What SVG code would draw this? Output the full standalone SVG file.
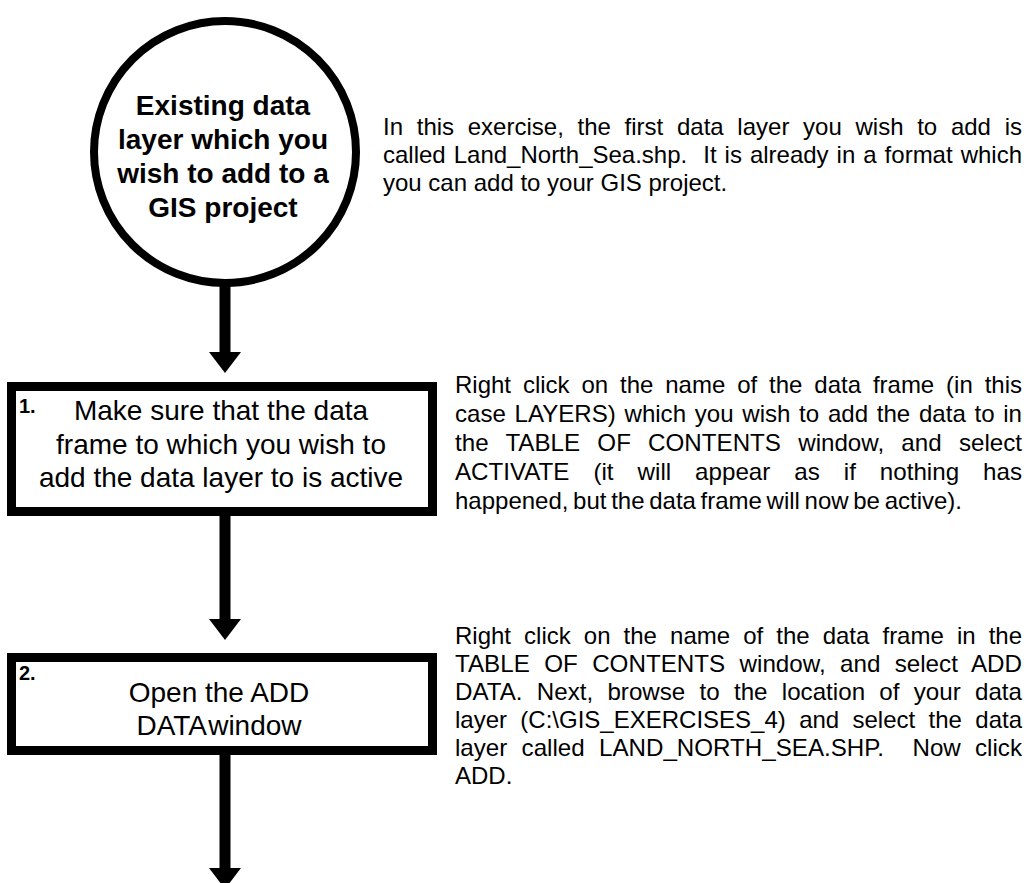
<svg xmlns="http://www.w3.org/2000/svg" width="1031" height="883" viewBox="0 0 1031 883">
  <style>
    .shape { fill: #ffffff; stroke: #000000; }
    .title { font-family: "Liberation Sans", Arial, sans-serif; font-size: 28px; font-weight: bold; fill: #000; text-anchor: middle; }
    .step { font-family: "Liberation Sans", Arial, sans-serif; font-size: 28px; fill: #000; text-anchor: middle; }
    .num { font-family: "Liberation Sans", Arial, sans-serif; font-size: 20px; font-weight: bold; fill: #000; }
    .note { font-family: "Liberation Sans", Arial, sans-serif; font-size: 24px; fill: #000; }
    .flow { stroke: #000; stroke-width: 11; fill: none; marker-end: url(#head); }
  </style>
  <defs>
    <marker id="head" markerUnits="userSpaceOnUse" viewBox="0 -16 21 32" refX="0" refY="0" markerWidth="21" markerHeight="32" orient="auto">
      <path d="M0,-16 L21,0 L0,16 Z" fill="#000"/>
    </marker>
  </defs>
  <rect width="1031" height="883" fill="#ffffff"/>

  <!-- connectors -->
  <g id="connectors">
    <line class="flow" x1="225" y1="286" x2="225" y2="352"/>
    <line class="flow" x1="225" y1="515" x2="225" y2="619"/>
    <line class="flow" x1="225" y1="754" x2="225" y2="868"/>
  </g>

  <!-- start: existing data layer -->
  <g id="start">
    <circle class="shape" cx="225" cy="152" r="131" stroke-width="8"/>
    <text class="title" x="223" y="115">Existing data</text>
    <text class="title" x="223" y="149">layer which you</text>
    <text class="title" x="223" y="183">wish to add to a</text>
    <text class="title" x="223" y="217">GIS project</text>
  </g>

  <!-- step 1 -->
  <g id="step1">
    <rect class="shape" x="11.5" y="386.5" width="421" height="125" stroke-width="9"/>
    <text class="num" x="19" y="413">1.</text>
    <text class="step" x="221" y="420">Make sure that the data</text>
    <text class="step" x="221" y="454">frame to which you wish to</text>
    <text class="step" x="221" y="487">add the data layer to is active</text>
  </g>

  <!-- step 2 -->
  <g id="step2">
    <rect class="shape" x="11.5" y="657.5" width="421" height="93" stroke-width="9"/>
    <text class="num" x="19" y="680">2.</text>
    <text class="step" x="219" y="702">Open the ADD</text>
    <text class="step" x="219" y="735" word-spacing="-5">DATA window</text>
  </g>

  <!-- note beside the start node -->
  <g id="note0">
    <text class="note" x="383" y="135" word-spacing="7.04" textLength="639" lengthAdjust="spacingAndGlyphs">In this exercise, the first data layer you wish to add is</text>
    <text class="note" x="383" y="163" word-spacing="1.33" textLength="639" lengthAdjust="spacingAndGlyphs" xml:space="preserve">called Land_North_Sea.shp.  It is already in a format which</text>
    <text class="note" x="383" y="191">you can add to your GIS project.</text>
  </g>

  <!-- note beside step 1 -->
  <g id="note1">
    <text class="note" x="455" y="393" word-spacing="5.21" textLength="567" lengthAdjust="spacingAndGlyphs">Right click on the name of the data frame (in this</text>
    <text class="note" x="455" y="422" word-spacing="2.0" textLength="567" lengthAdjust="spacingAndGlyphs">case LAYERS) which you wish to add the data to in</text>
    <text class="note" x="455" y="451" word-spacing="10.47" textLength="567" lengthAdjust="spacingAndGlyphs">the TABLE OF CONTENTS window, and select</text>
    <text class="note" x="455" y="480" word-spacing="17.2" textLength="567" lengthAdjust="spacingAndGlyphs">ACTIVATE (it will appear as if nothing has</text>
    <text class="note" x="455" y="509" word-spacing="-2">happened, but the data frame will now be active).</text>
  </g>

  <!-- note beside step 2 -->
  <g id="note2">
    <text class="note" x="455" y="644" word-spacing="6.41" textLength="567" lengthAdjust="spacingAndGlyphs">Right click on the name of the data frame in the</text>
    <text class="note" x="455" y="672" word-spacing="7.58" textLength="567" lengthAdjust="spacingAndGlyphs">TABLE OF CONTENTS window, and select ADD</text>
    <text class="note" x="455" y="700" word-spacing="7.51" textLength="567" lengthAdjust="spacingAndGlyphs">DATA. Next, browse to the location of your data</text>
    <text class="note" x="455" y="728" word-spacing="6.68" textLength="567" lengthAdjust="spacingAndGlyphs">layer (C:\GIS_EXERCISES_4) and select the data</text>
    <text class="note" x="455" y="756" word-spacing="7.5" textLength="567" lengthAdjust="spacingAndGlyphs" xml:space="preserve">layer called LAND_NORTH_SEA.SHP.  Now click</text>
    <text class="note" x="455" y="784">ADD.</text>
  </g>
</svg>
